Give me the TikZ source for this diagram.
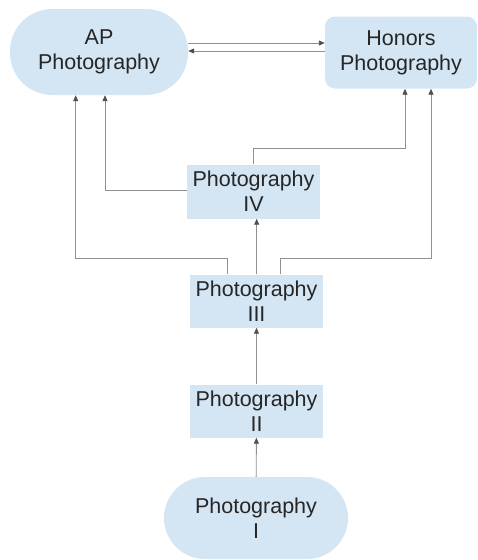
\documentclass[tikz,border=0pt]{standalone}
\usepackage{fontspec}
\setmainfont{Liberation Sans}
\usetikzlibrary{arrows.meta,calc}
\definecolor{boxfill}{HTML}{D4E6F4}
\definecolor{linecol}{HTML}{909090}
\definecolor{tipcol}{HTML}{505050}
\definecolor{txtcol}{HTML}{262626}
\begin{document}
\begin{tikzpicture}[x=1pt,y=-1pt,
  course/.style={fill=boxfill,draw=none,text=txtcol,align=center,inner sep=0pt,
    font=\fontsize{21.5}{25}\selectfont},
  conn/.style={draw=linecol,line width=0.9pt,-{Triangle[length=6pt,width=5pt,fill=tipcol,color=tipcol]}}]
\useasboundingbox (0,0) rectangle (477,560);
\node[course,rounded corners=42pt,minimum width=178pt,minimum height=86pt] (ap) at (99,52) {AP\\Photography};
\node[course,rounded corners=10pt,minimum width=152pt,minimum height=72pt] (hon) at (401,52.5) {Honors\\Photography};
\node[course,minimum width=133pt,minimum height=54pt] (p4) at (253.5,191.5) {Photography\\IV};
\node[course,minimum width=133pt,minimum height=53pt] (p3) at (256.5,301) {Photography\\III};
\node[course,minimum width=133pt,minimum height=53pt] (p2) at (256.5,411) {Photography\\II};
\node[course,rounded corners=41pt,minimum width=184pt,minimum height=82pt] (p1) at (256,518) {Photography\\I};
% junction coordinates
\coordinate (ja) at (75.7,258);
\coordinate (jb) at (431,258);
\coordinate (jc) at (105,190.7);
\coordinate (jd) at (405,148);
% connectors
\draw[conn] (p1) -- (p2);
\draw[conn] (p2) -- (p3);
\draw[conn] (p3.north -| 256.7,0) -- (p4.south -| 256.7,0);
\draw[conn] (ap.east |- 0,43) -- (hon.west |- 0,43);
\draw[conn] (hon.west |- 0,51) -- (ap.east |- 0,51);
\draw[conn] (p3.north -| 227,0) |- (ja) -- (ap.south -| ja);
\draw[conn] (p3.north -| 280,0) |- (jb) -- (hon.south -| jb);
\draw[conn] (p4.west |- jc) -- (jc) -- (ap.south -| jc);
\draw[conn] (p4.north -| 253,0) |- (jd) -- (hon.south -| jd);
\end{tikzpicture}
\end{document}
